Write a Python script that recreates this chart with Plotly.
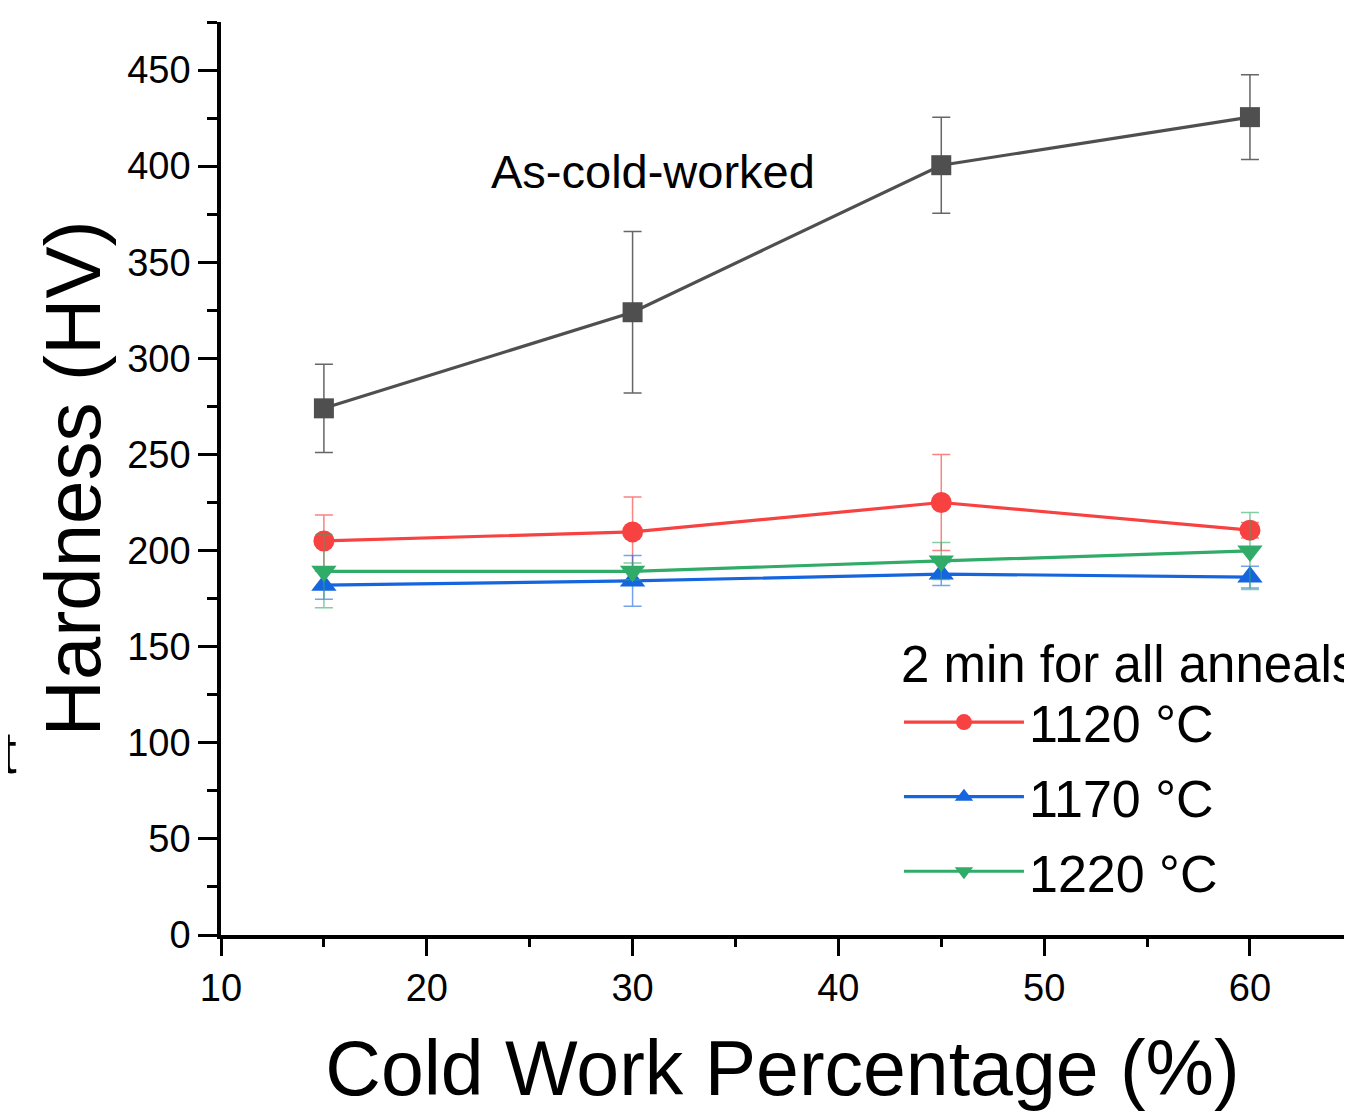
import plotly.graph_objects as go

# ---- data ----
cold_work = [15, 30, 45, 60]

as_cold_worked = [274, 324, 400.5, 425.5]
as_cold_worked_err = [23, 42, 25, 22]

hv_1120 = [205, 209.7, 225, 210.6]
hv_1120_err = [13.5, 18.2, 25, 4]

hv_1170 = [182, 184.2, 187.8, 186.2]
hv_1170_err = [7.3, 13.2, 6, 5.7]

hv_1220 = [189.2, 189.2, 194.6, 199.8]
hv_1220_err = [18.9, 4.4, 9.6, 20]

series_names = ["1120 °C", "1170 °C", "1220 °C"]

x_ticks = [10, 20, 30, 40, 50, 60]
y_ticks = [0, 50, 100, 150, 200, 250, 300, 350, 400, 450]

FONT = "Liberation Sans, Arial, sans-serif"

GRAY = "#4f4f4f"
RED = "#f84141"
BLUE = "#1565df"
GREEN = "#30ab68"

fig = go.Figure()


def add_series(y, err, color, err_color, symbol, size, name, show, group):
    fig.add_trace(go.Scatter(
        x=cold_work, y=y, name=name, showlegend=show, legendgroup=group,
        mode="lines+markers",
        line=dict(color=color, width=3.2),
        marker=dict(color=color, symbol=symbol, size=size),
        error_y=dict(type="data", array=err, visible=True,
                     color=err_color, thickness=1.5, width=9),
    ))


add_series(as_cold_worked, as_cold_worked_err, GRAY, "#666666", "square", 20,
           "As-cold-worked", False, "g0")
add_series(hv_1120, hv_1120_err, RED, "rgba(248,65,65,0.65)", "circle", 21,
           series_names[0], True, "g1")
add_series(hv_1170, hv_1170_err, BLUE, "rgba(21,101,223,0.6)", "triangle-up", 22,
           series_names[1], True, "g2")
add_series(hv_1220, hv_1220_err, GREEN, "rgba(48,171,104,0.6)", "triangle-down", 22,
           series_names[2], True, "g3")

fig.add_annotation(x=31.0, y=397, xref="x", yref="y", text="As-cold-worked",
                   showarrow=False, xanchor="center", yanchor="middle",
                   font=dict(family=FONT, size=47, color="black"))

# clipped glyph at the left edge of the picture
fig.add_annotation(x=0, y=0.2, xref="paper", yref="paper", text="t",
                   showarrow=False, xanchor="right", yanchor="middle",
                   xshift=-202, font=dict(family=FONT, size=60, color="black"))

fig.update_layout(
    width=1336, height=1103,
    margin=dict(l=213, r=0, t=14, b=176, pad=0, autoexpand=False),
    paper_bgcolor="white", plot_bgcolor="white",
    font=dict(family=FONT, color="black"),
    legend=dict(
        title=dict(text="2 min for all anneals", font=dict(family=FONT, size=51)),
        font=dict(family=FONT, size=52, color="black"),
        x=0.6037, y=0.35, xanchor="left", yanchor="top",
        bgcolor="rgba(0,0,0,0)", borderwidth=0,
        itemwidth=120, tracegroupgap=4,
    ),
    xaxis=dict(
        range=[10, 64.57], tickvals=x_ticks, ticktext=[str(v) for v in x_ticks],
        showgrid=False, zeroline=False, showline=True, linecolor="black", linewidth=3.5,
        ticks="outside", ticklen=17, tickwidth=3, tickcolor="black",
        minor=dict(dtick=5, tick0=0, ticks="outside", ticklen=8, tickwidth=3,
                   tickcolor="black", showgrid=False),
        tickfont=dict(family=FONT, size=38, color="black"),
        title=dict(text="Cold Work Percentage (%)",
                   font=dict(family=FONT, size=77, color="black"), standoff=38),
    ),
    yaxis=dict(
        range=[0, 475], tickvals=y_ticks, ticktext=[str(v) for v in y_ticks],
        showgrid=False, zeroline=False, showline=True, linecolor="black", linewidth=3.5,
        ticks="outside", ticklen=19, tickwidth=3, tickcolor="black",
        minor=dict(dtick=25, tick0=0, ticks="outside", ticklen=10, tickwidth=3,
                   tickcolor="black", showgrid=False),
        tickfont=dict(family=FONT, size=38, color="black"),
        title=dict(text="Hardness (HV)",
                   font=dict(family=FONT, size=78, color="black"), standoff=2),
    ),
)

fig.write_html("out.html")
